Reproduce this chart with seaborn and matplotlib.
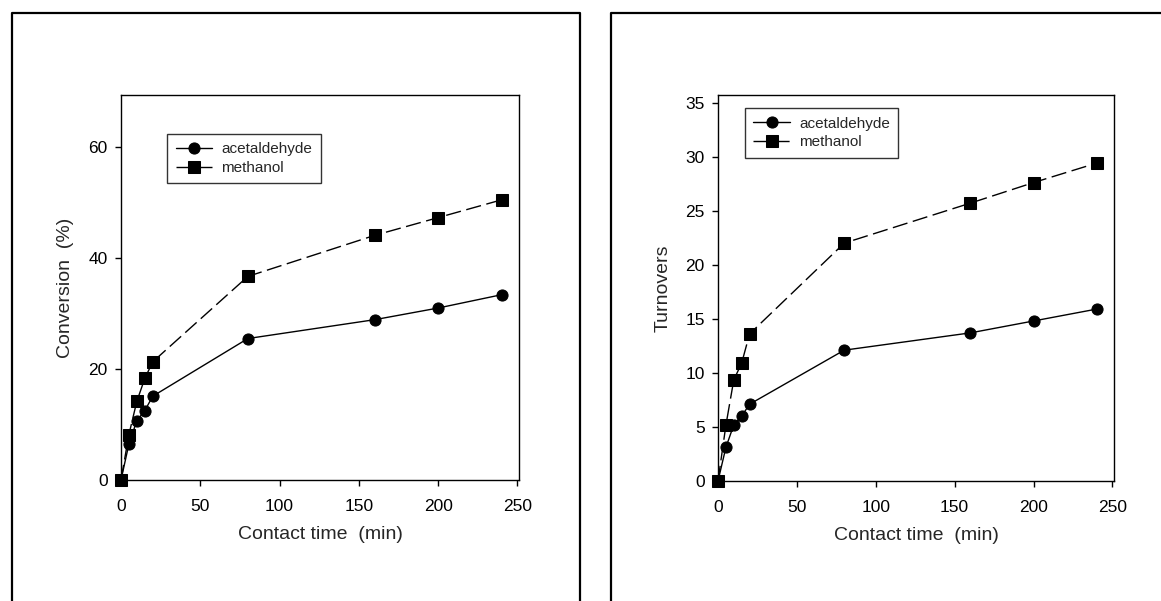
import matplotlib
matplotlib.use("Agg")
import matplotlib.pyplot as plt
from matplotlib.lines import Line2D
import seaborn as sns
import pandas as pd

# contact time (min)
times = [0, 5, 10, 15, 20, 80, 160, 200, 240]

# conversion (%)
conv_acetaldehyde = [0, 6.5, 10.7, 12.5, 15.1, 25.5, 28.9, 31.0, 33.4]
conv_methanol = [0, 8.2, 14.2, 18.3, 21.3, 36.7, 44.1, 47.3, 50.5]

# turnovers
turn_acetaldehyde = [0, 3.1, 5.2, 6.0, 7.1, 12.1, 13.7, 14.8, 15.9]
turn_methanol = [0, 5.15, 9.35, 10.9, 13.6, 22.0, 25.7, 27.6, 29.4]

compounds = ["acetaldehyde", "methanol"]

W, H = 1161, 601

sns.set_theme(style="ticks")
plt.rcParams["font.family"] = ["Liberation Sans", "DejaVu Sans"]


def long_df(a, m):
    return pd.DataFrame({
        "time": times + times,
        "value": a + m,
        "compound": [compounds[0]] * len(times) + [compounds[1]] * len(times),
    })


def px_axes(fig, x0, y0, x1, y1):
    return fig.add_axes([x0 / W, (H - y1) / H, (x1 - x0) / W, (y1 - y0) / H])


def draw_panel(ax, df, ylim, yticks, ylabel, leg_anchor):
    sns.lineplot(
        data=df, x="time", y="value", style="compound",
        markers={"acetaldehyde": "o", "methanol": "s"},
        dashes={"acetaldehyde": "", "methanol": (11, 4)},
        color="black", markersize=8, linewidth=1.0,
        markeredgecolor="black", clip_on=False, ax=ax,
    )
    ax.set_xlim(0, 251)
    ax.set_ylim(*ylim)
    ax.set_xticks([0, 50, 100, 150, 200, 250])
    ax.set_yticks(yticks)
    for s in ax.spines.values():
        s.set_linewidth(1.0)
        s.set_color("black")
    ax.tick_params(direction="out", length=4.5, width=1.0, colors="black",
                   labelsize=12.5)
    ax.tick_params(axis="x", pad=9)
    ax.tick_params(axis="y", pad=5)
    ax.set_xlabel("Contact time  (min)", fontsize=14)
    ax.set_ylabel(ylabel, fontsize=14)
    ax.xaxis.set_label_coords(0.5, -0.12)
    ax.yaxis.set_label_coords(-0.118, 0.5)

    handles, labels = ax.get_legend_handles_labels()
    leg = ax.legend(handles, labels, loc="upper left", bbox_to_anchor=leg_anchor,
                    frameon=True, fancybox=False, edgecolor="black",
                    fontsize=11, handlelength=2.4, handletextpad=0.6,
                    labelspacing=0.3, borderpad=0.55, borderaxespad=0)
    leg.get_frame().set_linewidth(1.0)


fig = plt.figure(figsize=(W / 100, H / 100), dpi=100)

ax1 = px_axes(fig, 121, 95, 519, 480)
draw_panel(ax1, long_df(conv_acetaldehyde, conv_methanol), (0, 69.4),
           [0, 20, 40, 60], "Conversion  (%)", (0.116, 0.899))

ax2 = px_axes(fig, 718, 95, 1114, 481)
draw_panel(ax2, long_df(turn_acetaldehyde, turn_methanol), (0, 35.7),
           [0, 5, 10, 15, 20, 25, 30, 35], "Turnovers", (0.068, 0.966))

# outer panel frames
def fig_line(xs, ys):
    fig.add_artist(Line2D([x / W for x in xs], [(H - y) / H for y in ys],
                          transform=fig.transFigure, color="black",
                          linewidth=1.6, solid_capstyle="projecting"))

fig_line([11.5, 11.5, 580, 580], [601, 13, 13, 601])
fig_line([611, 611, 1161], [601, 13, 13])

fig.savefig("out.png", dpi=100, facecolor="white")
